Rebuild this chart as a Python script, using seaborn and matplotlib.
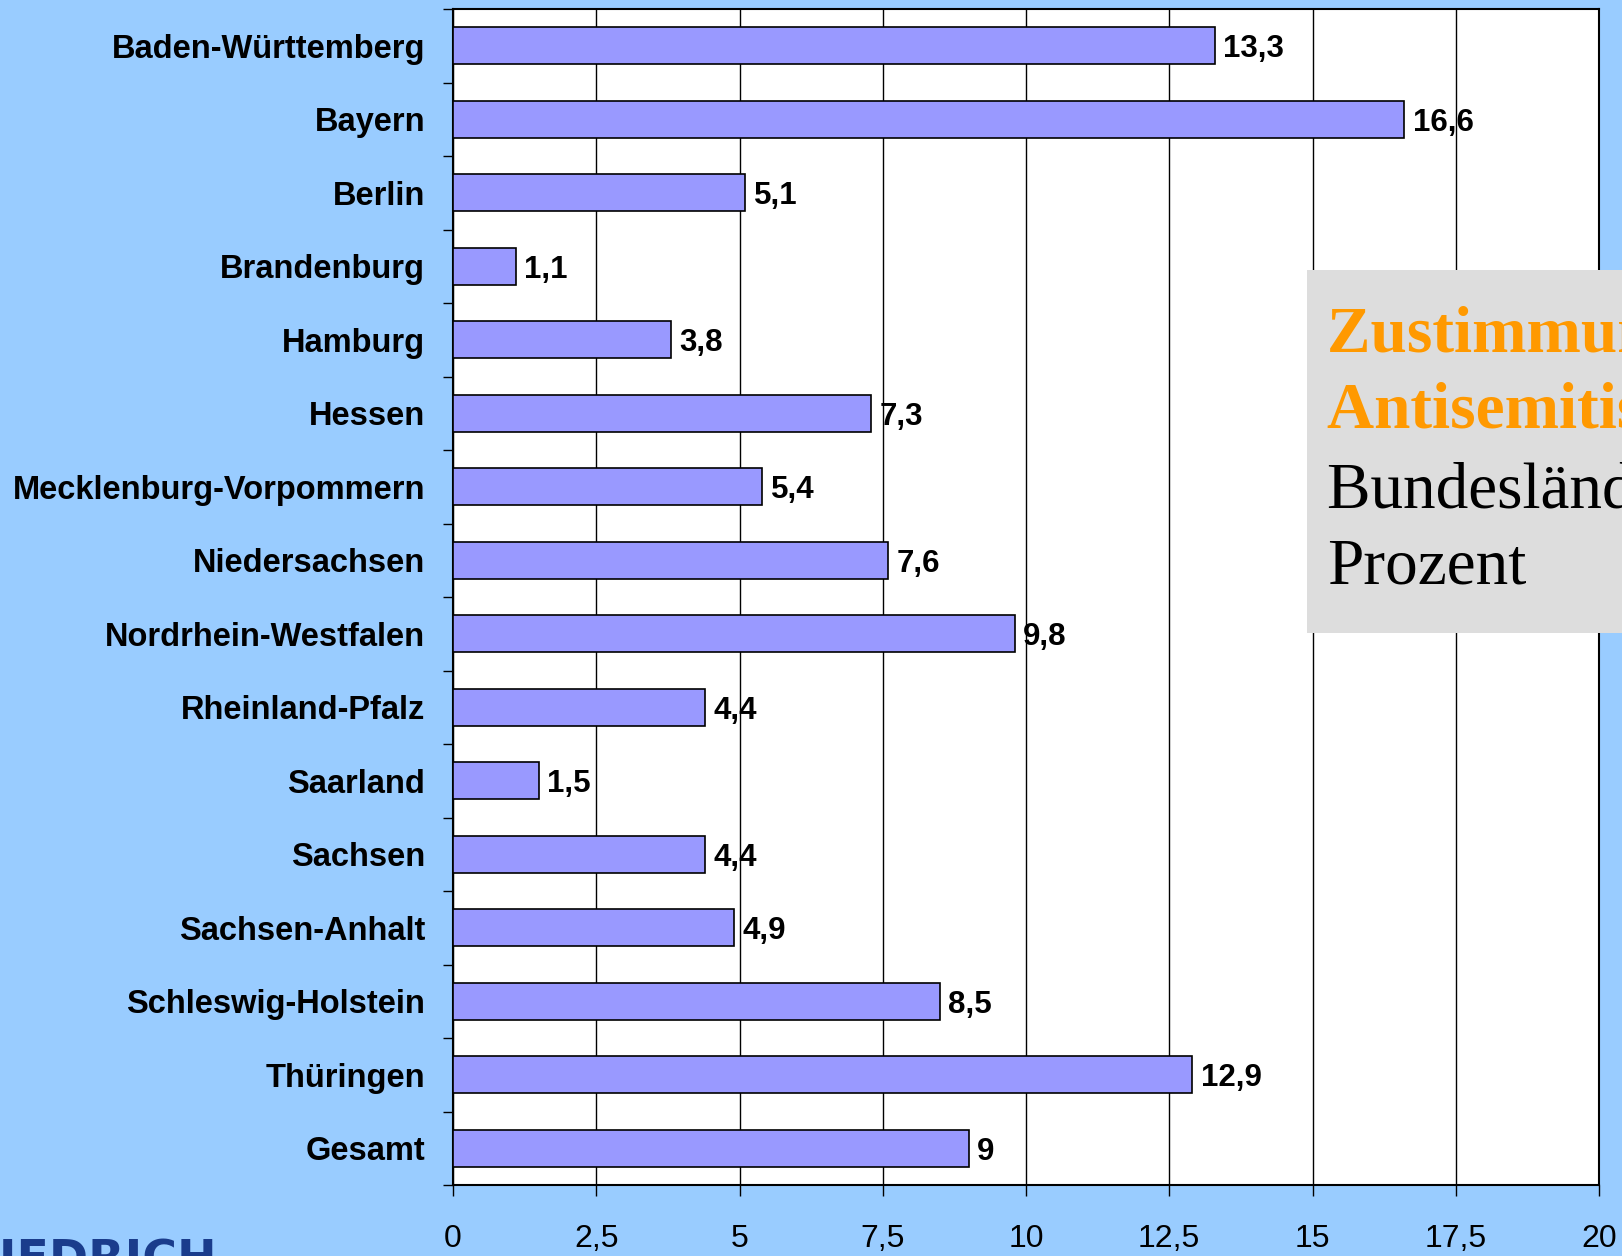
import numpy as np
import pandas as pd
import matplotlib
matplotlib.use('Agg')
import matplotlib.pyplot as plt
from matplotlib.patches import Rectangle
import seaborn as sns

# Data
laender = ['Baden-Württemberg', 'Bayern', 'Berlin', 'Brandenburg', 'Hamburg', 'Hessen',
           'Mecklenburg-Vorpommern', 'Niedersachsen', 'Nordrhein-Westfalen',
           'Rheinland-Pfalz', 'Saarland', 'Sachsen', 'Sachsen-Anhalt',
           'Schleswig-Holstein', 'Thüringen', 'Gesamt']
zustimmung = [13.3, 16.6, 5.1, 1.1, 3.8, 7.3, 5.4, 7.6, 9.8, 4.4, 1.5, 4.4, 4.9, 8.5, 12.9, 9]
x_ticks = [0, 2.5, 5, 7.5, 10, 12.5, 15, 17.5, 20]

title_lines = ['Zustimmung zum', 'Antisemitismus nach', 'Bundesländern in', 'Prozent']


def de(v):
    return f"{v:g}".replace('.', ',')


df = pd.DataFrame({'land': laender, 'wert': zustimmung})

sns.set_style('white')
plt.rcParams['font.family'] = ['Liberation Sans', 'DejaVu Sans']
plt.rcParams['text.color'] = 'black'
plt.rcParams['xtick.color'] = 'black'
plt.rcParams['ytick.color'] = 'black'

W, H = 1622, 1256
fig = plt.figure(figsize=(W / 100, H / 100), dpi=100)
fig.patch.set_facecolor('#99CCFF')

ax = fig.add_axes([453 / W, 1 - 1185 / H, (1599 - 453) / W, (1185 - 9) / H])
ax.set_facecolor('white')

sns.barplot(data=df, x='wert', y='land', orient='h', color='#9999FF',
            edgecolor='black', linewidth=1.2, width=0.5, saturation=1, ax=ax, zorder=3)

ax.set_xlim(0, 20)
ax.set_ylim(len(laender) - 0.5, -0.5)
ax.set_xticks(x_ticks)
ax.set_xticklabels([de(t) for t in x_ticks], fontsize=23, color='black')
ax.set_yticks(range(len(laender)))
ax.set_yticklabels(laender, fontsize=23.5, fontweight='bold', color='black')
ax.set_xlabel('')
ax.set_ylabel('')

ax.xaxis.grid(True, color='black', linewidth=1, zorder=0)
ax.set_axisbelow(True)
for s in ax.spines.values():
    s.set_visible(True)
    s.set_color('black')
    s.set_linewidth(1.5)

ax.set_yticks(np.arange(-0.5, len(laender), 1), minor=True)
ax.tick_params(axis='y', which='major', length=0, pad=20)
ax.tick_params(axis='y', which='minor', length=7, width=1, color='black', direction='out', left=True)
ax.tick_params(axis='x', which='major', length=8, width=1, color='black', direction='out',
               bottom=True, pad=20)

labels = ax.bar_label(ax.containers[0], labels=[de(v) for v in zustimmung], padding=6,
                      fontsize=22.5, fontweight='bold', color='black')
for t in labels:
    t.set_va('center_baseline')

# grey title box on the right (clipped by figure edge)
fig.patches.append(Rectangle((1307 / W, 1 - 633 / H), 0.3, 363 / H, transform=fig.transFigure,
                             facecolor='#DDDDDD', edgecolor='none', zorder=5))
baselines = [352, 427, 507, 583]
for i, (line, yb) in enumerate(zip(title_lines, baselines)):
    fig.text(1327 / W, 1 - yb / H, line, family='Liberation Serif', fontsize=47,
             fontweight='bold' if i < 2 else 'normal',
             color='#FF9900' if i < 2 else 'black', va='baseline', ha='left', zorder=6)

# logo text at bottom left, mostly cut off
fig.text(217 / W, 1 - 1239 / H, 'FRIEDRICH', fontsize=34, fontweight='bold',
         color='#1A3C8C', ha='right', va='top', family='DejaVu Sans')

fig.savefig('out.png', dpi=100, facecolor=fig.get_facecolor())
